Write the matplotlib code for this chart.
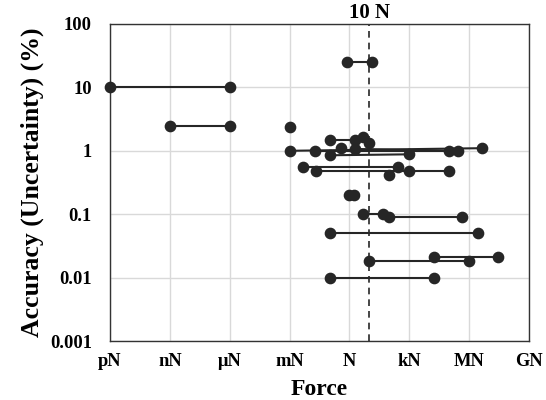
"""Force vs accuracy ranges of force measurement standards."""

import matplotlib

matplotlib.use("Agg")
import matplotlib.pyplot as plt
from matplotlib.ticker import FixedLocator, FixedFormatter, NullLocator

plt.rcParams["font.family"] = ["Liberation Serif", "DejaVu Serif"]
plt.rcParams["font.weight"] = "bold"

# range segments: force in N, accuracy in %
seg_f_lo = [1e-12, 1e-9, 0.73, 0.1, 1e-3, 0.018, 1.8, 0.1, 4.6e-3, 0.02, 1.0, 5.0, 100, 0.1, 10, 1.8e4, 0.1]
seg_f_hi = [1e-6, 1e-6, 13, 1.8, 4.6e6, 2.8e5, 1e5, 1e3, 280, 1e5, 1.7, 46, 4.6e5, 2.8e6, 1e6, 2.9e7, 1.8e4]
seg_a_lo = [10, 2.5, 25, 1.5, 1.0, 1.0, 1.07, 0.85, 0.55, 0.48, 0.2, 0.1, 0.09, 0.05, 0.018, 0.021, 0.01]
seg_a_hi = [10, 2.5, 25, 1.5, 1.1, 1.0, 1.0, 0.88, 0.55, 0.48, 0.2, 0.1, 0.09, 0.05, 0.018, 0.021, 0.01]

# single points
pt_f = [1e-3, 4.6, 10, 0.38, 100, 1e3]
pt_a = [2.4, 1.67, 1.34, 1.1, 0.42, 0.48]

x_ticks = [1e-12, 1e-9, 1e-6, 1e-3, 1, 1e3, 1e6, 1e9]
x_labels = ["pN", "nN", "μN", "mN", "N", "kN", "MN", "GN"]
y_ticks = [1e-3, 1e-2, 1e-1, 1, 10, 100]
y_labels = ["0.001", "0.01", "0.1", "1", "10", "100"]
ref_force = 10
ref_label = "10 N"

dark = "#262626"

fig = plt.figure(figsize=(5.46, 4.0), dpi=100)
ax = fig.add_axes([0.2015, 0.1475, 0.7675, 0.7925])
ax.set_xscale("log")
ax.set_yscale("log")
ax.set_xlim(x_ticks[0], x_ticks[-1])
ax.set_ylim(y_ticks[0], y_ticks[-1])

for f0, f1, a0, a1 in zip(seg_f_lo, seg_f_hi, seg_a_lo, seg_a_hi):
    ax.plot([f0, f1], [a0, a1], color=dark, lw=1.5, marker="o", ms=7.4,
            solid_capstyle="butt", zorder=3, clip_on=False)
ax.plot(pt_f, pt_a, ls="none", color=dark, marker="o", ms=7.4, zorder=3, clip_on=False)

ax.axvline(ref_force, color=dark, lw=1.2, ls=(0, (4, 3)), zorder=2)
ax.text(ref_force, 1.004, ref_label, transform=ax.get_xaxis_transform(),
        ha="center", va="bottom", fontsize=15, fontweight="bold")

ax.xaxis.set_major_locator(FixedLocator(x_ticks))
ax.xaxis.set_major_formatter(FixedFormatter(x_labels))
ax.xaxis.set_minor_locator(NullLocator())
ax.yaxis.set_major_locator(FixedLocator(y_ticks))
ax.yaxis.set_major_formatter(FixedFormatter(y_labels))
ax.yaxis.set_minor_locator(NullLocator())
ax.tick_params(length=0, labelsize=13.3)
ax.tick_params(axis="x", pad=9)
ax.tick_params(axis="y", pad=13)
ax.grid(True, color="#d9d9d9", lw=1.0, zorder=0)
ax.set_axisbelow(True)
for spine in ax.spines.values():
    spine.set_color("#333333")
    spine.set_linewidth(1.0)

ax.set_xlabel("Force", fontsize=17, fontweight="bold", labelpad=6)
ax.set_ylabel("Accuracy (Uncertainty) (%)", fontsize=18.5, fontweight="bold", labelpad=4)

fig.savefig("out.png", dpi=100)
